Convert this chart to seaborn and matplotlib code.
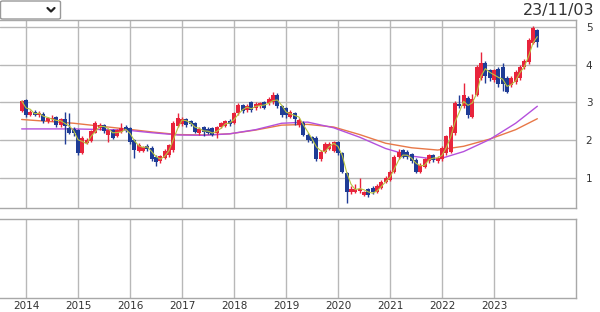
import numpy as np
import pandas as pd
import matplotlib
matplotlib.use("Agg")
import matplotlib.pyplot as plt
import seaborn as sns
from matplotlib.patches import FancyBboxPatch
from matplotlib.lines import Line2D

# ---- data (monthly candles, Dec 2013 .. Nov 2023) ----
months = pd.date_range("2013-12-01", "2023-11-01", freq="MS")

opens = [2.77, 3.07, 2.68, 2.76, 2.68, 2.70, 2.50, 2.55, 2.62, 2.40, 2.55, 2.32,
         2.30, 2.27, 1.66, 1.93, 1.98, 2.20, 2.32, 2.40, 2.15, 2.27, 2.12, 2.22,
         2.35, 2.32, 2.00, 1.72, 1.72, 1.85, 1.80, 1.55, 1.45, 1.53, 1.60, 1.74,
         2.38, 2.42, 2.55, 2.50, 2.45, 2.20, 2.35, 2.30, 2.32, 2.18, 2.36, 2.38,
         2.50, 2.46, 2.72, 2.93, 2.80, 3.00, 2.85, 2.90, 3.00, 2.98, 3.00, 3.20,
         2.90, 2.85, 2.62, 2.72, 2.40, 2.46, 2.14, 2.08, 2.06, 1.50, 1.70, 1.78,
         1.72, 1.95, 1.66, 1.13, 0.63, 0.63, 0.65, 0.55, 0.70, 0.74, 0.63, 0.74,
         0.90, 0.95, 1.16, 1.55, 1.74, 1.70, 1.63, 1.48, 1.16, 1.30, 1.45, 1.60,
         1.45, 1.50, 1.66, 1.69, 2.19, 2.97, 2.90, 3.12, 2.62, 3.20, 3.65, 4.05,
         3.86, 3.60, 3.90, 3.95, 3.65, 3.45, 3.54, 3.65, 3.93, 4.07, 4.58, 4.92]
closes = [3.04, 2.67, 2.75, 2.68, 2.73, 2.50, 2.58, 2.60, 2.40, 2.55, 2.38, 2.20,
          2.18, 1.66, 2.06, 2.00, 2.24, 2.45, 2.40, 2.25, 2.27, 2.07, 2.27, 2.32,
          2.28, 1.95, 1.74, 1.87, 1.82, 1.78, 1.50, 1.42, 1.58, 1.72, 1.87, 2.46,
          2.60, 2.55, 2.40, 2.42, 2.22, 2.30, 2.22, 2.20, 2.15, 2.35, 2.45, 2.50,
          2.42, 2.72, 2.93, 2.78, 2.92, 2.80, 2.97, 2.98, 2.85, 3.10, 3.20, 2.90,
          2.68, 2.67, 2.75, 2.55, 2.54, 2.14, 2.00, 1.98, 1.50, 1.69, 1.90, 1.90,
          1.95, 1.66, 1.16, 0.63, 0.72, 0.72, 0.72, 0.62, 0.55, 0.62, 0.80, 0.90,
          1.00, 1.16, 1.56, 1.70, 1.56, 1.55, 1.46, 1.16, 1.35, 1.50, 1.60, 1.48,
          1.52, 1.80, 2.10, 2.35, 2.99, 2.90, 3.20, 2.67, 3.10, 3.94, 4.05, 3.70,
          3.65, 3.85, 3.50, 3.50, 3.28, 3.65, 3.80, 3.93, 4.10, 4.66, 4.97, 4.60]
highs = [3.06, 3.09, 2.80, 2.80, 2.78, 2.74, 2.62, 2.66, 2.64, 2.60, 2.74, 2.72,
         2.34, 2.30, 2.10, 2.06, 2.28, 2.52, 2.46, 2.44, 2.30, 2.30, 2.30, 2.45,
         2.40, 2.36, 2.04, 1.92, 1.86, 1.90, 1.84, 1.60, 1.62, 1.76, 1.90, 2.50,
         2.72, 2.62, 2.60, 2.54, 2.48, 2.34, 2.38, 2.34, 2.36, 2.38, 2.48, 2.54,
         2.55, 2.76, 2.98, 2.97, 2.96, 3.04, 3.00, 3.02, 3.04, 3.14, 3.27, 3.24,
         2.94, 2.88, 2.80, 2.76, 2.58, 2.50, 2.18, 2.12, 2.10, 1.74, 1.95, 1.96,
         1.98, 1.98, 1.70, 1.16, 0.78, 0.85, 1.00, 0.66, 0.74, 0.78, 0.84, 0.94,
         1.04, 1.20, 1.60, 1.76, 1.78, 1.74, 1.66, 1.52, 1.40, 1.54, 1.64, 1.64,
         1.58, 1.84, 2.14, 2.40, 3.04, 3.20, 3.52, 3.16, 3.22, 3.98, 4.34, 4.10,
         3.90, 3.90, 3.95, 4.05, 3.70, 3.70, 3.85, 3.98, 4.14, 4.70, 5.03, 4.95]
lows = [2.74, 2.62, 2.64, 2.64, 2.62, 2.46, 2.46, 2.50, 2.36, 2.36, 1.90, 2.16,
        2.12, 1.62, 1.64, 1.90, 1.95, 2.18, 2.28, 2.20, 1.95, 2.02, 2.08, 2.20,
        2.22, 1.90, 1.53, 1.68, 1.68, 1.72, 1.45, 1.33, 1.40, 1.50, 1.56, 1.70,
        2.34, 2.38, 2.36, 2.38, 2.18, 2.15, 2.12, 2.16, 2.10, 2.05, 2.32, 2.35,
        2.38, 2.42, 2.68, 2.72, 2.76, 2.76, 2.80, 2.86, 2.82, 2.94, 2.96, 2.85,
        2.62, 2.60, 2.58, 2.40, 2.36, 2.10, 1.96, 1.94, 1.46, 1.46, 1.66, 1.74,
        1.68, 1.62, 1.12, 0.34, 0.58, 0.60, 0.60, 0.52, 0.50, 0.58, 0.60, 0.70,
        0.86, 0.92, 1.12, 1.50, 1.52, 1.50, 1.40, 1.12, 1.12, 1.26, 1.40, 1.42,
        1.40, 1.46, 1.62, 1.66, 2.15, 2.86, 2.86, 2.60, 2.58, 3.16, 3.60, 3.52,
        3.58, 3.55, 3.40, 3.30, 3.24, 3.40, 3.50, 3.60, 3.88, 4.02, 4.54, 4.47]

# long moving averages at sample months
ma_months = ["2013-12", "2014-12", "2015-12", "2016-06", "2016-12", "2017-06",
             "2017-12", "2018-06", "2018-12", "2019-06", "2019-12", "2020-06",
             "2020-12", "2021-06", "2021-12", "2022-06", "2022-12", "2023-06",
             "2023-11"]
ma_orange = [2.55, 2.45, 2.30, 2.22, 2.15, 2.14, 2.17, 2.27, 2.40, 2.42, 2.35,
             2.15, 1.92, 1.80, 1.74, 1.84, 2.03, 2.28, 2.57]
ma_purple = [2.30, 2.30, 2.27, 2.20, 2.14, 2.13, 2.17, 2.28, 2.45, 2.48, 2.33,
             2.08, 1.78, 1.58, 1.49, 1.70, 2.02, 2.45, 2.90]

year_ticks = list(range(2014, 2024))
price_ticks = [1, 2, 3, 4, 5]

# ---- frame building ----
def dec_year(d):
    return d.year + (d.month - 1) / 12.0

df = pd.DataFrame({"t": [dec_year(d) for d in months],
                   "open": opens, "high": highs, "low": lows, "close": closes})
df["ma_short"] = df["close"].rolling(3, min_periods=1).mean()
ma_df = pd.DataFrame({"t": [dec_year(pd.Timestamp(m + "-01")) for m in ma_months],
                      "orange": ma_orange, "purple": ma_purple})

sns.set_theme(style="white")
plt.rcParams["font.family"] = ["DejaVu Sans"]

W, H = 600, 312
fig = plt.figure(figsize=(6.0, 3.12), dpi=100)

def fx(px):
    return px / W

def fy(py):
    return 1 - py / H

grid_c = "#b8b8b8"
spine_c = "#a8a8a8"
red = "#e8243c"
blue = "#1f3c96"

ax = fig.add_axes([0, fy(208), fx(576), (208 - 20) / H])
ax2 = fig.add_axes([0, fy(298), fx(576), (298 - 219) / H])

xlim = (2013.5, 2024.577)
for a in (ax, ax2):
    a.set_xlim(*xlim)
    a.set_facecolor("white")
    for s in a.spines.values():
        s.set_color(spine_c)
        s.set_linewidth(1.0)
    a.spines["left"].set_visible(False)
    for yr in year_ticks:
        a.axvline(yr, color=grid_c, lw=1.0, zorder=0)

ax.set_ylim(0.205, 5.185)
for v in price_ticks:
    ax.axhline(v, color=grid_c, lw=1.0, zorder=0)

# moving averages
sns.lineplot(data=ma_df, x="t", y="orange", ax=ax, color="#e87848", lw=1.0, zorder=2)
sns.lineplot(data=ma_df, x="t", y="purple", ax=ax, color="#b450dc", lw=1.0, zorder=2)

# candles
up = df["close"] >= df["open"]
cols = np.where(up, red, blue)
ax.vlines(df["t"], df["low"], df["high"], colors=cols, lw=1.0, zorder=3)
body_lo = np.minimum(df["open"], df["close"])
body_h = np.maximum(np.abs(df["close"] - df["open"]), 0.03)
ax.bar(df["t"], body_h, bottom=body_lo, width=0.076, color=cols, lw=0, zorder=4)

sns.lineplot(data=df, x="t", y="ma_short", ax=ax, color="#b8c440", lw=0.8, zorder=5)

ax.set_xlabel("")
ax.set_ylabel("")
ax.set_xticks([])
ax.yaxis.tick_right()
ax.set_yticks(price_ticks)
ax.set_yticklabels([str(v) for v in price_ticks], fontsize=7.5, color="#333333")
ax.tick_params(axis="y", length=0, pad=7)

ax2.set_ylim(0, 1)
ax2.set_yticks([])
ax2.set_xticks(year_ticks)
ax2.set_xticklabels([str(y) for y in year_ticks], fontsize=7.5, color="#333333")
ax2.tick_params(axis="x", length=0, pad=2)

# header: dropdown box and date
box = FancyBboxPatch((fx(0.5), fy(19)), fx(60), 18 / H,
                     boxstyle="round,pad=0,rounding_size=0.004",
                     transform=fig.transFigure, fc="white", ec="#999999", lw=1.0)
fig.patches.append(box)
fig.lines.append(Line2D([fx(47.5), fx(51), fx(54.5)], [fy(8), fy(11.5), fy(8)],
                        transform=fig.transFigure, color="#222222", lw=1.6))
fig.text(fx(523), fy(10), "23/11/03", fontsize=11.5, color="#333333",
         ha="left", va="center")

fig.savefig("out.png", dpi=100)
